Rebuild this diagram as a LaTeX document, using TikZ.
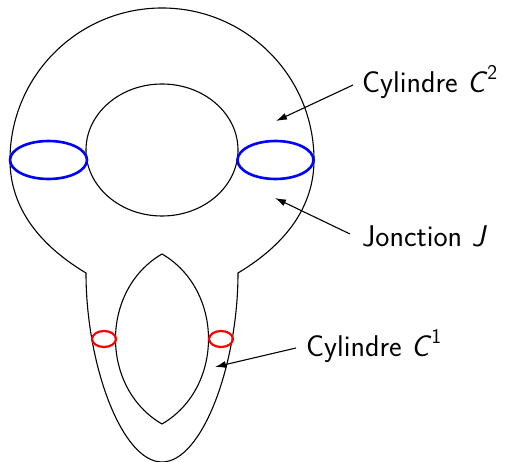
\documentclass[tikz,border=0pt]{standalone}
\usetikzlibrary{arrows.meta}
\begin{document}
\begin{tikzpicture}[x=1pt,y=-1pt,
  outline/.style={black,line width=1.1pt},
  bigcycle/.style={blue,line width=2.6pt},
  smallcycle/.style={red,line width=2.2pt},
  pointer/.style={black,line width=1.1pt,-{Latex[length=11pt,width=7pt]}},
  lbl/.style={anchor=base west,inner sep=0pt,font=\sffamily\fontsize{30}{36}\selectfont}]
\useasboundingbox (0,0) rectangle (507,462);

% outer surface: head, shoulders and tail
\draw[outline] (86,273) .. controls (26,237) and (10,195) .. (10,160)
  arc[start angle=180,end angle=360,radius=152]
  .. controls (314,195) and (298,237) .. (238,273)
  .. controls (238,365) and (202,462) .. (162,462)
  .. controls (122,462) and (86,365) .. cycle;

% hole of the head
\draw[outline] (162,150) ellipse[x radius=76,y radius=66];

% hole of the tail
\draw[outline] (162,254) .. controls (100,290) and (100,388) .. (162,424)
  .. controls (224,388) and (224,290) .. cycle;

% cycles of the cylinders
\draw[bigcycle] (48.5,160) ellipse[x radius=38.5,y radius=19];
\draw[bigcycle] (275.5,160) ellipse[x radius=38,y radius=19];
\draw[smallcycle] (104,339) ellipse[x radius=12,y radius=8];
\draw[smallcycle] (221,339) ellipse[x radius=12,y radius=8];

% labels
\newcommand{\supnum}[1]{\raisebox{0.45em}{\fontsize{21}{21}\selectfont #1}}
\node[lbl] (c2) at (362,93) {Cylindre \textit{C}\supnum{2}};
\node[lbl] (jn) at (362,247) {Jonction \textit{J}};
\node[lbl] (c1) at (306,357) {Cylindre \textit{C}\supnum{1}};

\coordinate (c2tail) at (353,85);
\coordinate (c2tip) at (276,121);
\coordinate (jntail) at (350,234);
\coordinate (jntip) at (275,198);
\coordinate (c1tail) at (296,348);
\coordinate (c1tip) at (215,367);

\draw[pointer] (c2tail) -- (c2tip);
\draw[pointer] (jntail) -- (jntip);
\draw[pointer] (c1tail) -- (c1tip);
\end{tikzpicture}
\end{document}
